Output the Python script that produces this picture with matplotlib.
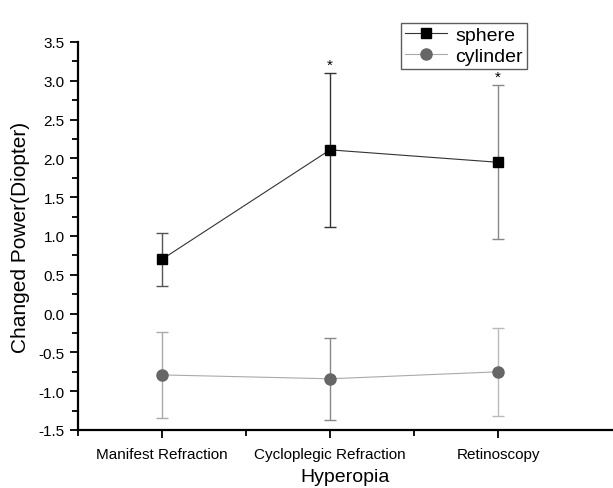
import numpy as np
import matplotlib
matplotlib.use('Agg')
import matplotlib.pyplot as plt
from matplotlib.ticker import MultipleLocator, FixedLocator, FuncFormatter

plt.rcParams['font.family'] = ['Liberation Sans', 'DejaVu Sans']

categories = ['Manifest Refraction', 'Cycloplegic Refraction', 'Retinoscopy']
sphere_mean = [0.70, 2.11, 1.95]
sphere_sd = [0.34, 0.99, 0.99]
cylinder_mean = [-0.79, -0.84, -0.75]
cylinder_sd = [0.55, 0.53, 0.57]
significant = [False, True, True]

sphere_err_colors = ['#555555', '#333333', '#888888']
cylinder_err_colors = ['#aaaaaa', '#888888', '#bbbbbb']

x = np.arange(1, len(categories) + 1)

fig = plt.figure(figsize=(6.13, 4.89), dpi=100)
# axis runs off the right edge of the picture, as in the original
ax = fig.add_axes([78 / 613, 58 / 489, 535 / 613, 388 / 489])

# error bars drawn one by one so each gets its own shade
for xi, m, s, c in zip(x, sphere_mean, sphere_sd, sphere_err_colors):
    ax.errorbar(xi, m, yerr=s, fmt='none', ecolor=c, elinewidth=1.0,
                capsize=4, capthick=1.0, zorder=2)
for xi, m, s, c in zip(x, cylinder_mean, cylinder_sd, cylinder_err_colors):
    ax.errorbar(xi, m, yerr=s, fmt='none', ecolor=c, elinewidth=1.0,
                capsize=4, capthick=1.0, zorder=2)

ax.plot(x, sphere_mean, color='#333333', lw=0.8, marker='s', ms=7,
        mfc='black', mec='black', label='sphere', zorder=3)
ax.plot(x, cylinder_mean, color='#aaaaaa', lw=0.8, marker='o', ms=8,
        mfc='#666666', mec='#666666', label='cylinder', zorder=3)

for xi, m, s, sig in zip(x, sphere_mean, sphere_sd, significant):
    if sig:
        ax.text(xi, m + s + 0.02, '*', ha='center', va='bottom', fontsize=11)

ax.set_xlim(0.5, 0.5 + 535 / 168)
ax.set_ylim(-1.5, 3.5)
ax.set_xticks(x)
ax.set_xticklabels(categories, fontsize=11)
ax.xaxis.set_minor_locator(FixedLocator([0.5, 1.5, 2.5]))
ax.yaxis.set_major_locator(MultipleLocator(0.5))
ax.yaxis.set_minor_locator(MultipleLocator(0.25))
ax.yaxis.set_major_formatter(FuncFormatter(lambda v, p: '{:.1f}'.format(v)))
ax.tick_params(axis='both', which='major', direction='out', length=6, width=1.3, labelsize=11)
ax.tick_params(axis='both', which='minor', direction='out', length=4, width=1.3)
ax.tick_params(axis='x', pad=6)

for side in ['top', 'right']:
    ax.spines[side].set_visible(False)
for side in ['left', 'bottom']:
    ax.spines[side].set_linewidth(1.6)

ax.set_ylabel('Changed Power(Diopter)', fontsize=15, labelpad=6)
ax.set_xlabel('Hyperopia', fontsize=14, labelpad=5)

leg = fig.legend(loc='upper left', bbox_to_anchor=(391 / 613, 1 - 14 / 489),
                 fontsize=14, frameon=True, fancybox=False, borderpad=0.2,
                 handlelength=2.2, handletextpad=0.4, labelspacing=0.15)
leg.get_frame().set_edgecolor('#333333')
leg.get_frame().set_linewidth(1.0)

fig.savefig('out.png', dpi=100)
